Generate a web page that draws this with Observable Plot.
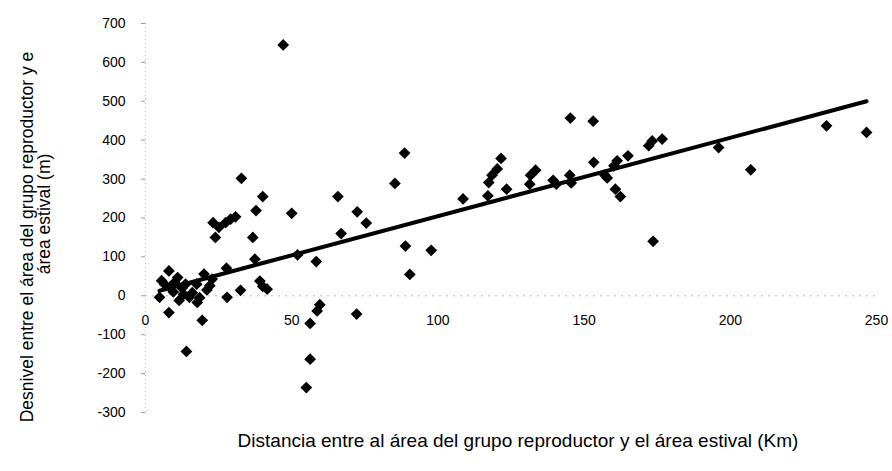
<!DOCTYPE html>
<html>
<head>
<meta charset="utf-8">
<script src="https://cdn.jsdelivr.net/npm/d3@7"></script>
<script src="https://cdn.jsdelivr.net/npm/@observablehq/plot@0.6"></script>
<style>
  html, body { margin: 0; padding: 0; background: #fff; }
  #chart svg { display: block; }
</style>
</head>
<body>
<div id="chart"></div>
<script>
// Distance (km) between breeding-group area and summer area
const distancia = [4.8, 5.5, 6.5, 8, 8, 8.5, 9.5, 10, 11, 11.5, 12.5, 13, 13.7, 14, 15, 16, 17.5, 17.7, 18.5, 19.4,
  20, 21, 22, 22.8, 23.1, 23.9, 25.1, 27.4, 27.7, 27.9, 29.1, 30.8, 32.5, 32.8, 36.7, 37.4, 37.8, 39.1, 40.1, 40.1,
  41.6, 47.1, 50, 52, 55, 56.3, 56.3, 58.4, 58.7, 59.6, 65.8, 66.9, 72.2, 72.4, 75.5, 85.3, 88.6, 88.9, 90.4, 97.7,
  108.6, 117.1, 117.4, 118.5, 120.3, 121.6, 123.5, 131.4, 131.7, 133.4, 139.4, 140.5, 145.1, 145.3, 145.6, 153.1, 153.3,
  157.1, 157.9, 160.2, 161.3, 160.7, 162.4, 165, 172.1, 173.3, 176.7, 173.6, 196, 207, 232.9, 246.6];
// Elevation difference (m)
const desnivel = [-4, 39, 30, 64, -43, 22, 10, 35, 47, -12, 20, 4, 30, -143, -4, 8, 30, -17, -5, -63,
  56, 15, 26, 43, 188, 150, 176, 188, 71, -4, 197, 203, 14, 302, 150, 94, 219, 38, 255, 24,
  17, 645, 212, 105, -236, -163, -71, 88, -39, -23, 255, 160, -47, 216, 187, 289, 367, 128, 55, 117,
  249, 257, 291, 310, 326, 353, 274, 287, 310, 323, 297, 287, 310, 457, 290, 449, 343,
  310, 303, 334, 347, 274, 255, 360, 386, 398, 403, 140, 381, 324, 437, 420];
// Linear trendline endpoints
const trendX = [4.8, 246.6];
const trendY = [13, 500];
// Tick labels
const xTicks = [0, 50, 100, 150, 200, 250];
const yTicks = [-300, -200, -100, 0, 100, 200, 300, 400, 500, 600, 700];

const xTitle = "Distancia entre al área del grupo reproductor y el área estival (Km)";
const yTitle1 = "Desnivel entre el área del grupo reproductor y e";
const yTitle2 = "área estival (m)";

const points = distancia.map((d, i) => ({x: d, y: desnivel[i]}));
const trend = trendX.map((d, i) => ({x: d, y: trendY[i]}));

const font = "'Liberation Sans', Arial, Helvetica, sans-serif";

const plot = Plot.plot({
  width: 892,
  height: 471,
  marginLeft: 145,
  marginRight: 16,
  marginTop: 23,
  marginBottom: 59,
  style: {fontFamily: font, fontSize: "14px", background: "#fff", color: "#000"},
  x: {domain: [0, 250]},
  y: {domain: [-300, 700]},
  marks: [
    Plot.ruleX([0], {stroke: "#b8b8b8", strokeWidth: 1, strokeDasharray: "1,3"}),
    Plot.ruleY([0], {stroke: "#b8b8b8", strokeWidth: 1, strokeDasharray: "2,5"}),
    Plot.axisY({ticks: yTicks, tickSize: 4, tickPadding: 16, stroke: "#999", fontSize: 14,
      tickFormat: d => String(d), label: null}),
    Plot.axisX({ticks: [], label: null}),
    Plot.text(xTicks, {x: d => d, y: 0, dy: 25, text: d => String(d), fontSize: 14, fill: "#000"}),
    Plot.dot(points, {x: "x", y: "y", symbol: "diamond2", r: 5.3, fill: "#000", stroke: "none"}),
    Plot.line(trend, {x: "x", y: "y", stroke: "#000", strokeWidth: 4})
  ]
});

const svg = d3.select(plot);
svg.append("text")
  .attr("x", 518).attr("y", 447)
  .attr("text-anchor", "middle")
  .style("font-family", font).style("font-size", "19px").attr("fill", "#000")
  .text(xTitle);
svg.append("text")
  .attr("transform", "translate(33,237) rotate(-90)")
  .attr("text-anchor", "middle")
  .style("font-family", font).style("font-size", "17.5px").attr("fill", "#000")
  .text(yTitle1);
svg.append("text")
  .attr("transform", "translate(50,214) rotate(-90)")
  .attr("text-anchor", "middle")
  .style("font-family", font).style("font-size", "17.5px").attr("fill", "#000")
  .text(yTitle2);

document.getElementById("chart").appendChild(plot);
</script>
</body>
</html>
